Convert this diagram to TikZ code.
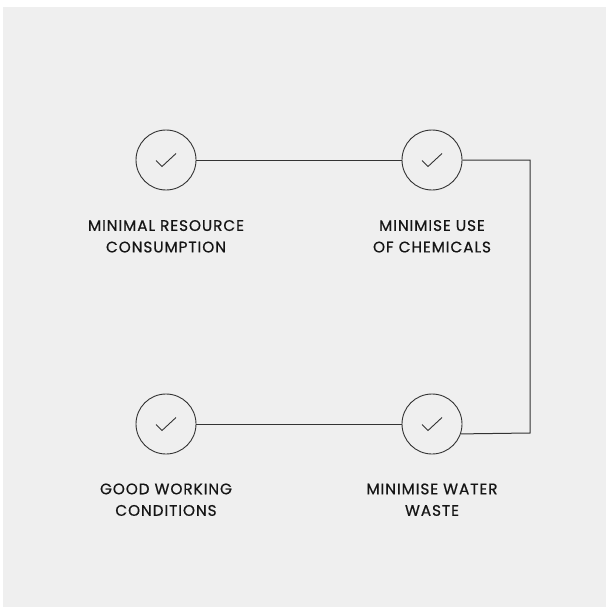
\documentclass[tikz,border=0pt]{standalone}
\usepackage{fontspec}
\setmainfont{Poppins}[LetterSpace=6,FakeBold=0.6]
\usetikzlibrary{calc}
\definecolor{bg}{HTML}{EFEFEF}
\definecolor{ink}{HTML}{151515}
\definecolor{ln}{HTML}{333333}
\begin{document}
\begin{tikzpicture}[x=1pt,y=-1pt,
 stepcirc/.style={circle,draw=ln,line width=0.9pt,minimum size=60pt,inner sep=0pt},
 lbl/.style={align=center,inner sep=0pt,text=ink,font=\fontsize{15.3}{21.5}\selectfont},
 conn/.style={draw=ln,line width=1pt},
 tick/.style={draw=ln,line width=0.9pt}]
\useasboundingbox (0,0) rectangle (606,607);
\fill[white] (0,0) rectangle (606,607);
\fill[bg] (3,7) rectangle (606,607);
% steps
\node[stepcirc] (c1) at (166,160) {};
\node[stepcirc] (c2) at (432,160) {};
\node[stepcirc] (c3) at (166,424) {};
\node[stepcirc] (c4) at (432,424) {};
\foreach \c in {c1,c2,c3,c4}
  \draw[tick] ([shift={(-10,0.5)}]\c.center) -- ++(6,6) -- ++(14,-13);
% labels
\node[lbl] (l1) at (166,236.3) {MINIMAL RESOURCE\\CONSUMPTION};
\node[lbl] (l2) at (432,236.3) {MINIMISE USE\\OF CHEMICALS};
\node[lbl] (l3) at (166,499.7) {GOOD WORKING\\CONDITIONS};
\node[lbl] (l4) at (432,499.7) {MINIMISE WATER\\WASTE};
% connectors
\coordinate (k1) at (530,160);
\coordinate (k2) at (530,433);
\draw[conn] (c1.east) -- (c2.west);
\draw[conn] (c2.east) -- (k1) -- (k2) -- (c4.-19.47);
\draw[conn] (c4.west) -- (c3.east);
\end{tikzpicture}
\end{document}
